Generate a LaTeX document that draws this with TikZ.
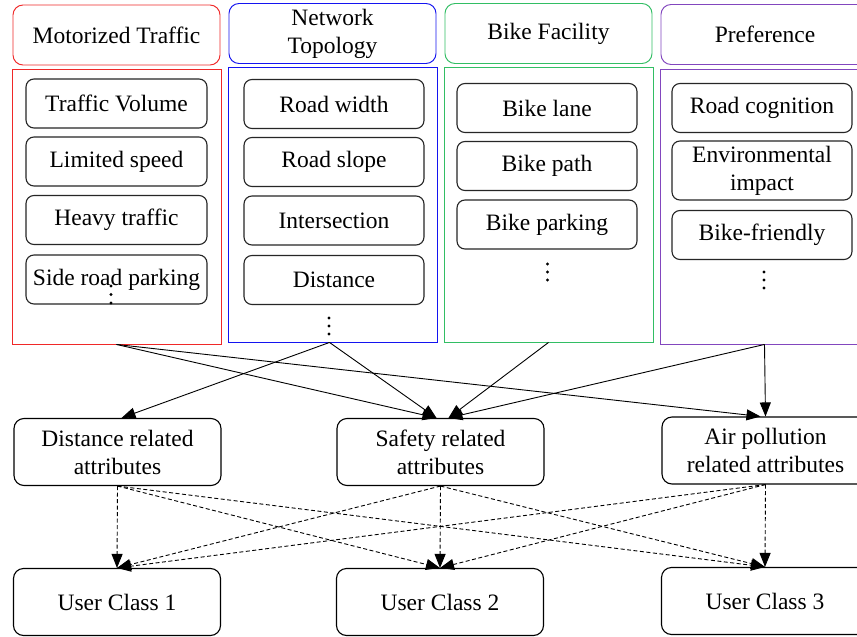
\documentclass[tikz,border=0pt]{standalone}
\usepackage{fontspec}
\setmainfont{Liberation Serif}
\usetikzlibrary{arrows.meta,calc}
\definecolor{cred}{RGB}{240,40,40}
\definecolor{cblue}{RGB}{20,20,240}
\definecolor{cgreen}{RGB}{50,190,100}
\definecolor{cpurple}{RGB}{130,70,190}
\tikzset{
  base/.style={inner sep=0pt, align=center, font=\fontsize{23.5}{28}\selectfont},
  header/.style={base, draw, rounded corners=10pt, line width=0.95pt, minimum width=207pt, minimum height=60pt},
  cont/.style={draw, line width=0.9pt, minimum width=209pt, minimum height=275pt, inner sep=0pt},
  item/.style={base, draw=black!85, rounded corners=8pt, line width=1.1pt, minimum width=181pt, minimum height=49pt},
  attr/.style={base, draw, rounded corners=10pt, line width=1.1pt, minimum width=207pt, minimum height=67pt},
  tip/.style={-{Triangle[length=14pt,width=11pt]}},
  solid arrow/.style={tip, line width=0.9pt},
  dash arrow/.style={tip, line width=0.9pt, dash pattern=on 4pt off 2.5pt},
  dot/.style={circle, fill=black, inner sep=0pt, minimum size=3.4pt}
}
\begin{document}
\begin{tikzpicture}[x=1pt,y=-1pt]
\clip (0,0) rectangle (857,637);
\fill[white] (0,0) rectangle (857,637);
% headers
\node[header, draw=cred]    (hmt) at (116.5,35)   {Motorized Traffic};
\node[header, draw=cblue]   (hnt) at (332.5,33.5) {Network\\Topology};
\node[header, draw=cgreen]  (hbf) at (548.5,33.5) {Bike Facility};
\node[header, draw=cpurple, minimum width=208pt] (hpf) at (765,34.5) {Preference};
% containers
\node[cont, draw=cred]    (cmt) at (116.5,206.5) {};
\node[cont, draw=cblue]   (cnt) at (332.5,204.5) {};
\node[cont, draw=cgreen]  (cbf) at (548.5,204.5) {};
\node[cont, draw=cpurple] (cpf) at (764.5,206.5) {};
% motorized traffic items
\node[item] (m1) at (116.5,103.5) {Traffic Volume};
\node[item] (m2) at (116.5,161.5) {Limited speed};
\node[item] (m3) at (116.5,220)   {Heavy traffic};
\node[item] (m4) at (116.5,279.5) {Side road parking};
\node[dot] (md1) at (111,286) {};
\node[dot] (md2) at (111,294.5) {};
\node[dot] (md3) at (111,303) {};
% network topology items
\node[item, minimum width=180pt] (n1) at (334,104)   {Road width};
\node[item, minimum width=180pt] (n2) at (334,162)   {Road slope};
\node[item, minimum width=180pt] (n3) at (334,220.5) {Intersection};
\node[item, minimum width=180pt] (n4) at (334,280)   {Distance};
\node[dot] (nd1) at (329,318) {};
\node[dot] (nd2) at (329,326) {};
\node[dot] (nd3) at (329,334) {};
% bike facility items
\node[item, minimum width=180pt] (b1) at (547,108)   {Bike lane};
\node[item, minimum width=180pt] (b2) at (547,166)   {Bike path};
\node[item, minimum width=180pt] (b3) at (547,224.5) {Bike parking};
\node[dot] (bd1) at (547.5,264) {};
\node[dot] (bd2) at (547.5,272) {};
\node[dot] (bd3) at (547.5,280) {};
% preference items
\node[item, minimum width=180pt] (p1) at (762,108)   {Road cognition};
\node[item, minimum width=180pt, minimum height=59pt] (p2) at (762,170.5) {Environmental\\impact};
\node[item, minimum width=180pt] (p3) at (762,235)   {Bike-friendly};
\node[dot] (pd1) at (764,272) {};
\node[dot] (pd2) at (764,280) {};
\node[dot] (pd3) at (764,288) {};
% attributes
\node[attr] (dist) at (117.5,452) {Distance related\\attributes};
\node[attr] (saf)  at (440.5,452) {Safety related\\attributes};
\node[attr] (air)  at (765.5,450.5) {Air pollution\\related attributes};
% user classes
\node[attr] (u1) at (117,602) {User Class 1};
\node[attr] (u2) at (440,602) {User Class 2};
\node[attr] (u3) at (765,601) {User Class 3};
% solid arrows
\draw[solid arrow] (cmt.south) -- ($(saf.north)+(-4,0)$);
\draw[solid arrow] (cmt.south) -- ($(air.north)+(-5,0)$);
\draw[solid arrow] ($(cnt.south)+(-3,0)$) -- ($(dist.north)+(4,0)$);
\draw[solid arrow] ($(cnt.south)+(-3,0)$) -- ($(saf.north)+(-4,0)$);
\draw[solid arrow] (cbf.south) -- ($(saf.north)+(8,0)$);
\draw[solid arrow] (cpf.south) -- ($(saf.north)+(8,0)$);
\draw[solid arrow] (cpf.south) -- (air.north);
% dashed arrows
\foreach \a in {dist,saf,air}{
  \foreach \u in {u1,u2,u3}{
    \draw[dash arrow] (\a.south) -- (\u.north);
  }
}
\end{tikzpicture}
\end{document}
